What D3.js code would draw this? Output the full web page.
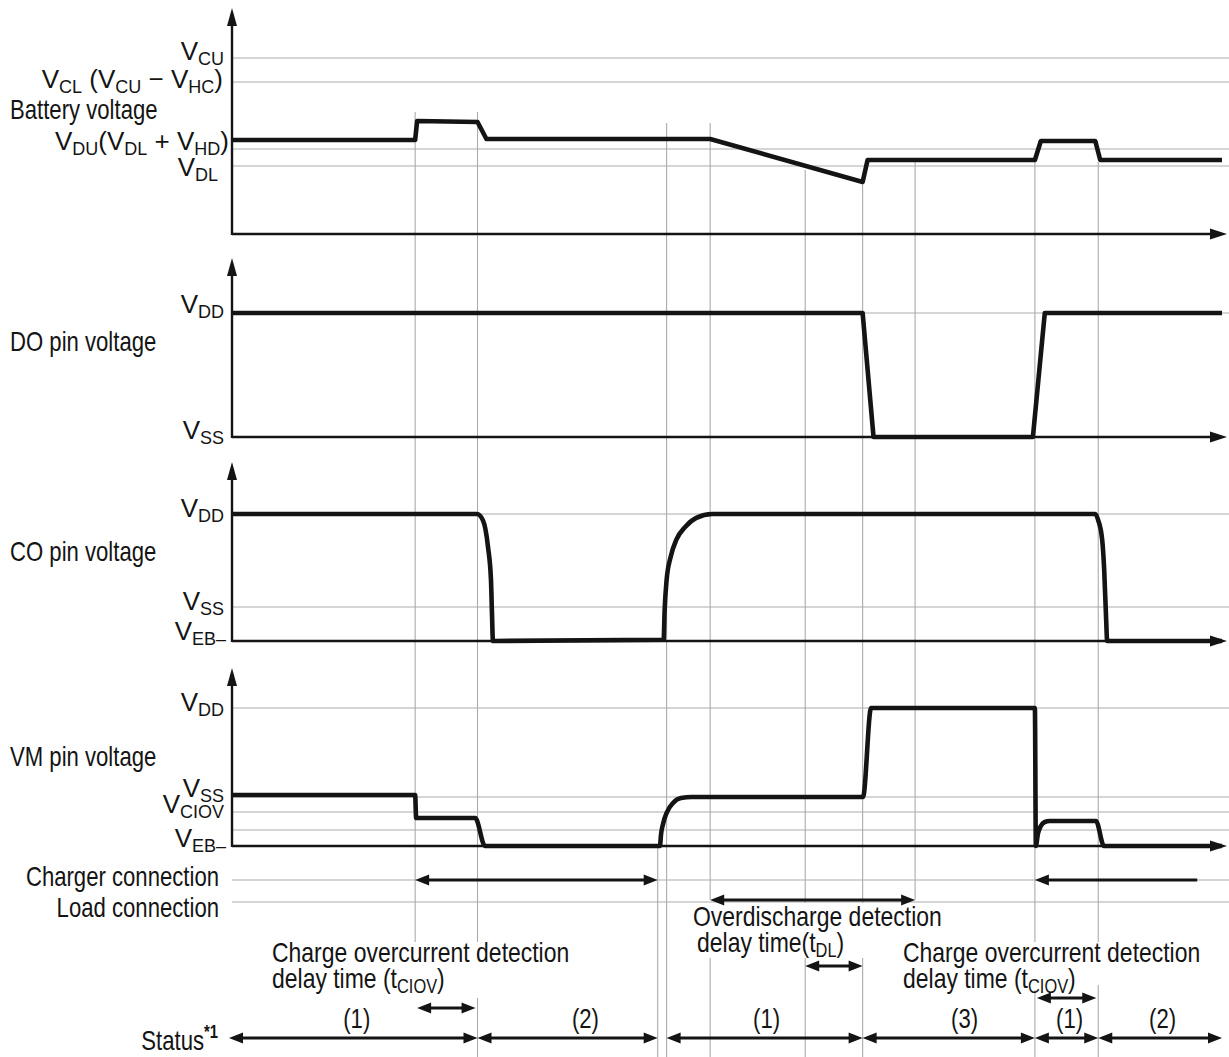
<!DOCTYPE html>
<html><head><meta charset="utf-8">
<script src="https://cdn.jsdelivr.net/npm/d3@7"></script>
<style>body{margin:0;background:#fff}</style>
</head><body><svg id="c" width="1229" height="1057"></svg>
<script>
// ---------------- data ----------------
const timeDomain = [0, 1000];
const eventTimes = [185, 248, 430, 439, 483, 579, 637, 690, 811, 875];

const batteryT = [0, 185, 187, 248, 257, 483, 637, 642, 811, 817, 872, 877, 1000];
const batteryV = [47, 47, 56.5, 56, 47.5, 47.5, 26, 37, 37, 46.5, 46.5, 37, 37];
const batteryLevels = [88, 76, 42.5, 34];

const doT = [0, 637, 648, 809, 821, 1000];
const doV = [100, 100, 0, 0, 100, 100];
const doLevels = [100];

const coT = [0, 247.5, 253.5, 258.6, 261.6, 262.6, 263.6, 436, 437, 439, 443, 449, 458, 469, 485, 872, 875, 879, 881, 883, 884, 1000];
const coV = [100, 100, 95, 74, 48, 22, 0, 1, 24, 48, 66, 80, 90, 97, 100, 100, 95, 79.5, 56, 16.5, 0, 0];
const coLevels = [100, 26.8];

const vmT = [0, 185, 186, 245.7, 255.6, 432.3, 433.3, 435.4, 439.4, 445.5, 453.5, 464.6, 637.4, 645.5, 811, 812, 814, 817, 821, 826, 872.7, 880.8, 1000];
const vmV = [37, 37, 20.3, 20.3, 0, 0, 8, 16, 24.6, 31.2, 34.8, 35.5, 35.5, 100, 100, 0, 8.7, 14.5, 17.4, 18.1, 18.1, 0, 0];
const vmLevels = [100, 35.5, 24.6, 11.6];

const statusStart = [0, 248, 439, 637, 811, 875];
const statusEnd = [248, 430, 637, 811, 875, 1000];
const statusLabels = ["(1)", "(2)", "(1)", "(3)", "(1)", "(2)"];
const statusLabelT = [126, 357, 540, 740, 846, 940];

const chargerStart = [185, 811];
const chargerEnd = [430, 975];
const overdischargeSpan = [483, 690];
const tdlSpan = [579, 637];
const tciovSpan1 = [187, 246];
const tciovSpan2 = [813, 873];

// ---------------- layout ----------------
const svg = d3.select("#c");
const FONT = '"Liberation Sans",Arial,sans-serif';
const INK = "#141414", GRID = "#ababab";
const x = d3.scaleLinear().domain(timeDomain).range([232, 1222]);
const xAxisEnd = 1227, gridRight = 1229;

const panels = [
  {key: "battery", y: d3.scaleLinear().domain([0, 100]).range([234, 34]), top: 8, T: batteryT, V: batteryV, levels: batteryLevels, curve: d3.curveLinear},
  {key: "do", y: d3.scaleLinear().domain([0, 100]).range([437, 313]), top: 258, T: doT, V: doV, levels: doLevels, curve: d3.curveLinear},
  {key: "co", y: d3.scaleLinear().domain([0, 100]).range([641, 514]), top: 462, T: coT, V: coV, levels: coLevels, curve: d3.curveMonotoneX},
  {key: "vm", y: d3.scaleLinear().domain([0, 100]).range([846, 708]), top: 668, T: vmT, V: vmV, levels: vmLevels, curve: d3.curveMonotoneX}
];

// vertical event-line visible spans (pixels)
const eventSpans = [
  [[112, 942]],
  [[112, 942], [998, 1057]],
  [[846, 1057]],
  [[123, 1057]],
  [[123, 900], [958, 1057]],
  [[170, 903], [958, 1057]],
  [[183, 903], [958, 1057]],
  [[162, 900]],
  [[162, 942], [990, 1057]],
  [[162, 942], [985, 1057]]
];

const gGrid = svg.append("g").attr("stroke", GRID).attr("stroke-width", 1.1);
panels.forEach(p => {
  p.levels.forEach(l => {
    gGrid.append("line").attr("x1", x(0)).attr("x2", gridRight)
      .attr("y1", p.y(l)).attr("y2", p.y(l));
  });
});
const chargerY = 880, loadY = 902, statusY = 1038;
[chargerY, loadY].forEach(yy => gGrid.append("line").attr("x1", x(0)).attr("x2", gridRight).attr("y1", yy).attr("y2", yy));
eventTimes.forEach((t, i) => {
  eventSpans[i].forEach(s => {
    gGrid.append("line").attr("x1", x(t)).attr("x2", x(t)).attr("y1", s[0]).attr("y2", s[1]);
  });
});

// axes
const gAx = svg.append("g");
panels.forEach(p => {
  const yb = p.y(0);
  gAx.append("line").attr("x1", x(0)).attr("x2", x(0)).attr("y1", yb + 1).attr("y2", p.top + 14)
    .attr("stroke", INK).attr("stroke-width", 2.4);
  gAx.append("path").attr("d", `M${x(0)},${p.top} L${x(0) - 5},${p.top + 18} L${x(0) + 5},${p.top + 18} Z`).attr("fill", INK);
  gAx.append("line").attr("x1", x(0)).attr("x2", xAxisEnd - 12).attr("y1", yb).attr("y2", yb)
    .attr("stroke", INK).attr("stroke-width", 2.4);
  gAx.append("path").attr("d", `M${xAxisEnd},${yb} L${xAxisEnd - 17},${yb - 5.5} L${xAxisEnd - 17},${yb + 5.5} Z`).attr("fill", INK);
});

// signals
panels.forEach(p => {
  const pts = p.T.map((t, i) => [t, p.V[i]]);
  const line = d3.line().x(d => x(d[0])).y(d => p.y(d[1])).curve(p.curve);
  svg.append("path").attr("d", line(pts)).attr("fill", "none").attr("stroke", INK)
    .attr("stroke-width", 4.6).attr("stroke-linejoin", "round").attr("stroke-linecap", "butt");
});

// arrows
function arrow(t1, t2, yy, left, right, xa) {
  const a = xa !== undefined ? xa : x(t1), b = x(t2);
  const L = 14, h = 5.5;
  svg.append("line").attr("x1", left ? a + L - 2 : a).attr("x2", right ? b - L + 2 : b)
    .attr("y1", yy).attr("y2", yy).attr("stroke", INK).attr("stroke-width", 3.2);
  if (left) svg.append("path").attr("d", `M${a},${yy} L${a + L},${yy - h} L${a + L},${yy + h} Z`).attr("fill", INK);
  if (right) svg.append("path").attr("d", `M${b},${yy} L${b - L},${yy - h} L${b - L},${yy + h} Z`).attr("fill", INK);
}
statusStart.forEach((s, i) => arrow(s, statusEnd[i], statusY, true, true, i === 0 ? x(s) - 3 : undefined));
arrow(chargerStart[0], chargerEnd[0], chargerY, true, true);
arrow(chargerStart[1], chargerEnd[1], chargerY, true, false);
arrow(overdischargeSpan[0], overdischargeSpan[1], loadY - 2, true, true);
arrow(tdlSpan[0], tdlSpan[1], 966, true, true);
arrow(tciovSpan1[0], tciovSpan1[1], 1008, true, true);
arrow(tciovSpan2[0], tciovSpan2[1], 998, true, true);

// text helpers: V-labels regular width, prose labels condensed
const MAIN = 26, SUB = 18, NARROW = 27, SQUEEZE = 0.82;
function rich(xx, yy, parts, anchor, condensed, size) {
  const fs = size || (condensed ? NARROW : MAIN);
  const t = svg.append("text").attr("font-family", FONT)
    .attr("font-size", fs).attr("fill", INK).attr("text-anchor", anchor || "end");
  if (condensed) t.attr("x", 0).attr("y", 0).attr("transform", `translate(${xx},${yy}) scale(${SQUEEZE},1)`);
  else t.attr("x", xx).attr("y", yy);
  let shifted = 0;
  parts.forEach(p => {
    const [txt, kind] = p;
    const sp = t.append("tspan").text(txt);
    let want = 0;
    if (kind === "sub") { sp.attr("font-size", condensed ? Math.round(fs * 0.7) : SUB); want = 4.5; }
    else if (kind === "sup") { sp.attr("font-size", 18).attr("font-weight", "bold"); want = -12; }
    if (want !== shifted) { sp.attr("dy", want - shifted); shifted = want; }
  });
  return t;
}
// panel labels
rich(224, 60, [["V"], ["CU", "sub"]]);
rich(223, 88, [["V"], ["CL", "sub"], [" (V"], ["CU", "sub"], [" \u2212 V"], ["HC", "sub"], [")"]]);
rich(10, 119, [["Battery voltage"]], "start", true);
rich(229, 150, [["V"], ["DU", "sub"], ["(V"], ["DL", "sub"], [" + V"], ["HD", "sub"], [")"]]);
rich(218, 176, [["V"], ["DL", "sub"]]);

rich(224, 313, [["V"], ["DD", "sub"]]);
rich(10, 351, [["DO pin voltage"]], "start", true);
rich(224, 439, [["V"], ["SS", "sub"]]);

rich(224, 517, [["V"], ["DD", "sub"]]);
rich(10, 561, [["CO pin voltage"]], "start", true);
rich(224, 610, [["V"], ["SS", "sub"]]);
rich(226, 640, [["V"], ["EB\u2013", "sub"]]);

rich(224, 711, [["V"], ["DD", "sub"]]);
rich(10, 766, [["VM pin voltage"]], "start", true);
rich(224, 797, [["V"], ["SS", "sub"]]);
rich(224, 813, [["V"], ["CIOV", "sub"]]);
rich(226, 847, [["V"], ["EB\u2013", "sub"]]);

rich(219, 886, [["Charger connection"]], "end", true);
rich(219, 917, [["Load connection"]], "end", true);
rich(218, 1050, [["Status"], ["*1", "sup"]], "end", true);

const ANN = 28;
rich(272, 962, [["Charge overcurrent detection"]], "start", true, ANN);
rich(272, 988, [["delay time (t"], ["CIOV", "sub"], [")"]], "start", true, ANN);
rich(693, 926, [["Overdischarge detection"]], "start", true, ANN);
rich(697, 952, [["delay time(t"], ["DL", "sub"], [")"]], "start", true, ANN);
rich(903, 962, [["Charge overcurrent detection"]], "start", true, ANN);
rich(903, 988, [["delay time (t"], ["CIOV", "sub"], [")"]], "start", true, ANN);

statusLabels.forEach((s, i) => rich(x(statusLabelT[i]), 1028, [[s]], "middle", true));
</script></body></html>
